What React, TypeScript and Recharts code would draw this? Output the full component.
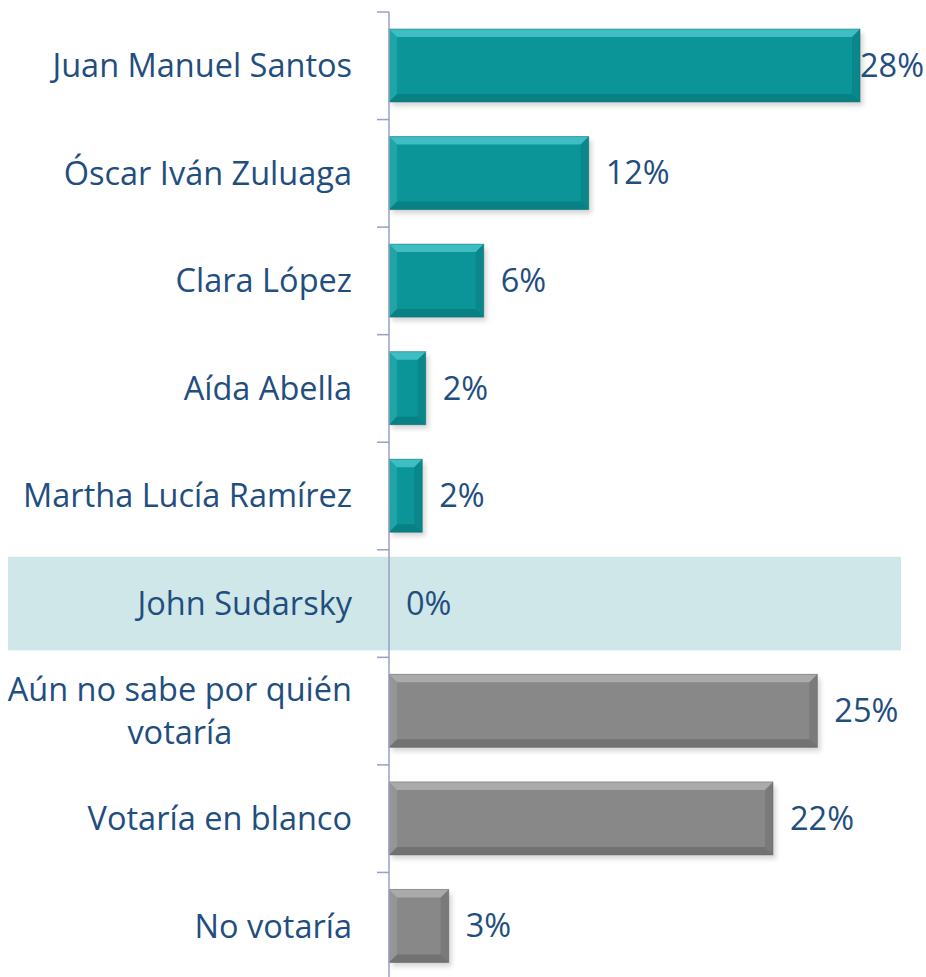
import React from "react";
import { BarChart, Bar, XAxis, YAxis, ReferenceArea, LabelList, Cell } from "recharts";

const names = [
  "Juan Manuel Santos",
  "Óscar Iván Zuluaga",
  "Clara López",
  "Aída Abella",
  "Martha Lucía Ramírez",
  "John Sudarsky",
  "Aún no sabe por quién\nvotaría",
  "Votaría en blanco",
  "No votaría",
];
const values = [27.6, 11.7, 5.55, 2.15, 1.95, 0, 25.1, 22.5, 3.5];
const shownLabels = ["28%", "12%", "6%", "2%", "2%", "0%", "25%", "22%", "3%"];
const groups = ["candidate", "candidate", "candidate", "candidate", "candidate", "candidate", "other", "other", "other"];
const highlighted = "John Sudarsky";

const FONT = "'Open Sans', sans-serif";
const FONT_SIZE = 32.5;
const TEXT = "#1f4e7f";
const AXIS = "#9aa0c0";

const W = 926;
const H = 980;
const TOP = 12;
const BOTTOM = 0;
const AXIS_W = 389;
const RIGHT = 25;
const BAND = (H - TOP - BOTTOM) / names.length;

const palette: Record<string, { main: string; light: string; dark: string }> = {
  candidate: { main: "#0b9599", light: "#5ad4d8", dark: "#06686b" },
  other: { main: "#888888", light: "#bdbdbd", dark: "#595959" },
};

const data = names.map((name, i) => ({ name, value: values[i], label: shownLabels[i], group: groups[i] }));

let ctx: CanvasRenderingContext2D | null = null;
function textWidth(s: string) {
  if (!ctx) ctx = document.createElement("canvas").getContext("2d");
  if (!ctx) return s.length * FONT_SIZE * 0.5;
  ctx.font = `${FONT_SIZE}px ${FONT}`;
  return ctx.measureText(s).width;
}

// bar with an Excel-like bevel and soft shadow
function BevelBar(props: any) {
  const { x, y, width, height, payload } = props;
  if (!width || width <= 0) return null;
  const c = palette[payload.group];
  const b = Math.min(8, width / 2, height / 2);
  const r = x + width;
  const btm = y + height;
  return (
    <g>
      <rect x={x + 3} y={y + 4} width={width} height={height} fill="#000" opacity={0.16} filter="url(#soft)" />
      <rect x={x} y={y} width={width} height={height} fill={c.main} />
      <polygon points={`${x},${y} ${r},${y} ${r - b},${y + b} ${x + b},${y + b}`} fill={c.light} opacity={0.65} />
      <polygon points={`${x},${y} ${x + b},${y + b} ${x + b},${btm - b} ${x},${btm}`} fill={c.light} opacity={0.25} />
      <polygon points={`${r},${y} ${r},${btm} ${r - b},${btm - b} ${r - b},${y + b}`} fill={c.dark} opacity={0.3} />
      <polygon points={`${x},${btm} ${r},${btm} ${r - b},${btm - b} ${x + b},${btm - b}`} fill={c.dark} opacity={0.45} />
      <rect x={x} y={y} width={width} height={height} fill="none" stroke={c.dark} strokeOpacity={0.45} strokeWidth={1} />
    </g>
  );
}

function ValueLabel(props: any) {
  const { x, y, width, height, value } = props;
  const w = textWidth(String(value));
  let tx = x + width + 17;
  if (tx + w > W - 2) tx = x + width;
  return (
    <text x={tx} y={y + height / 2} dy="0.35em" fill={TEXT} fontFamily={FONT} fontSize={FONT_SIZE}>
      {value}
    </text>
  );
}

function CategoryTick(props: any) {
  const { x, y, payload, index } = props;
  const axisX = AXIS_W;
  const lines = String(payload.value).split("\n");
  const top = y - BAND / 2;
  const tickMarks = (
    <>
      <line x1={axisX - 12} x2={axisX} y1={top} y2={top} stroke={AXIS} strokeWidth={1.5} />
      {index === names.length - 1 && (
        <line x1={axisX - 12} x2={axisX} y1={y + BAND / 2} y2={y + BAND / 2} stroke={AXIS} strokeWidth={1.5} />
      )}
    </>
  );
  if (lines.length === 1) {
    return (
      <g>
        {tickMarks}
        <text x={x} y={y} dy="0.35em" textAnchor="end" fill={TEXT} fontFamily={FONT} fontSize={FONT_SIZE}>
          {lines[0]}
        </text>
      </g>
    );
  }
  const maxW = Math.max(...lines.map(textWidth));
  const cx = x - maxW / 2;
  const lh = 43;
  return (
    <g>
      {tickMarks}
      {lines.map((l, i) => (
        <text
          key={i}
          x={cx}
          y={y + (i - (lines.length - 1) / 2) * lh}
          dy="0.35em"
          textAnchor="middle"
          fill={TEXT}
          fontFamily={FONT}
          fontSize={FONT_SIZE}
        >
          {l}
        </text>
      ))}
    </g>
  );
}

function HighlightBand(props: any) {
  const { x, y, width, height } = props;
  return <rect x={8} y={y + 7} width={x + width - 8} height={height - 14} fill="#cfe7e8" />;
}

export default function App() {
  return (
    <div style={{ position: "absolute", left: 0, top: 0, width: 926, height: 977, overflow: "hidden", background: "#fff" }}>
      <BarChart
        width={W}
        height={H}
        data={data}
        layout="vertical"
        barSize={73}
        margin={{ top: TOP, right: RIGHT, bottom: BOTTOM, left: 0 }}
      >
        <defs>
          <filter id="soft" x="-10%" y="-30%" width="120%" height="160%">
            <feGaussianBlur stdDeviation="2.5" />
          </filter>
        </defs>
        <XAxis type="number" domain={[0, 30]} hide />
        <YAxis
          type="category"
          dataKey="name"
          width={AXIS_W}
          axisLine={{ stroke: AXIS, strokeWidth: 1.5 }}
          tickLine={false}
          tickSize={0}
          tickMargin={37}
          interval={0}
          tick={<CategoryTick />}
        />
        <ReferenceArea y1={highlighted} y2={highlighted} ifOverflow="visible" shape={<HighlightBand />} />
        <Bar dataKey="value" isAnimationActive={false} shape={<BevelBar />}>
          {data.map((d, i) => (
            <Cell key={i} fill={palette[d.group].main} />
          ))}
          <LabelList dataKey="label" content={<ValueLabel />} />
        </Bar>
      </BarChart>
    </div>
  );
}
